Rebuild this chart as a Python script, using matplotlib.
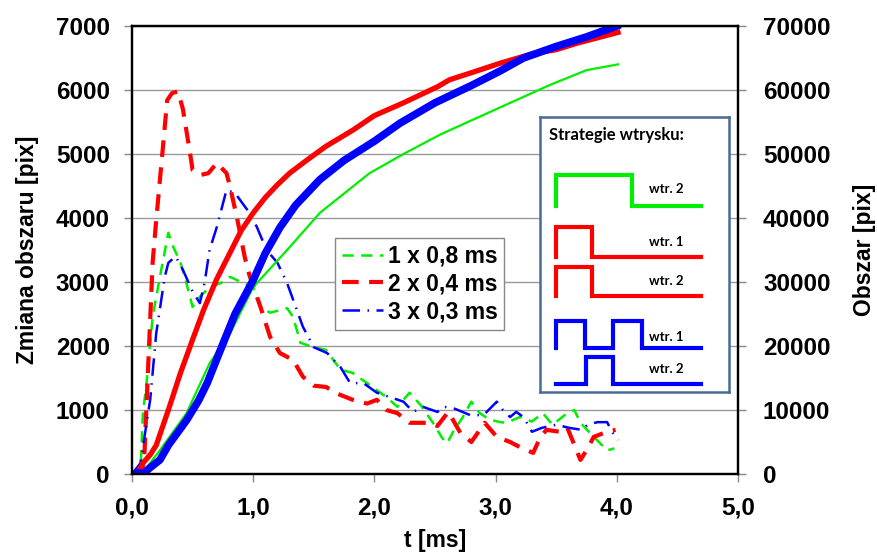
import matplotlib
matplotlib.use("Agg")
import matplotlib.pyplot as plt
from matplotlib.ticker import FixedLocator, FuncFormatter

# ---- data ----
# dashed curves: change of area [pix] (left axis)
t_g_d = [0, 0.07, 0.09, 0.12, 0.17, 0.23, 0.3, 0.34, 0.4, 0.44, 0.5, 0.56, 0.62, 0.68, 0.73, 0.81, 0.92, 1.0,
         1.06, 1.14, 1.28, 1.33, 1.39, 1.5, 1.6, 1.72, 1.82, 1.94, 2.02, 2.1, 2.19, 2.29, 2.38, 2.48, 2.56, 2.6,
         2.65, 2.73, 2.8, 2.87, 2.95, 3.04, 3.09, 3.2, 3.3, 3.39, 3.47, 3.59, 3.65, 3.7, 3.81, 3.92, 3.98]
v_g_d = [0, 50, 950, 1420, 2450, 3080, 3770, 3550, 3300, 3050, 2610, 2770, 2880, 2950, 2980, 3080, 2980, 2920,
         2610, 2520, 2590, 2450, 2050, 1980, 1940, 1630, 1580, 1420, 1310, 1200, 1050, 1270, 1080, 810, 560, 480,
         660, 890, 1130, 950, 850, 810, 800, 890, 820, 950, 770, 950, 1000, 800, 580, 370, 400]

t_r_d = [0, 0.08, 0.1, 0.17, 0.2, 0.25, 0.29, 0.33, 0.38, 0.42, 0.48, 0.5, 0.56, 0.63, 0.7, 0.78, 0.81, 0.87,
         0.93, 0.97, 1.06, 1.14, 1.22, 1.33, 1.41, 1.5, 1.6, 1.7, 1.82, 1.94, 2.02, 2.1, 2.19, 2.29, 2.38, 2.46,
         2.52, 2.61, 2.65, 2.71, 2.8, 2.87, 2.91, 3.01, 3.12, 3.22, 3.31, 3.37, 3.42, 3.53, 3.59, 3.64, 3.7,
         3.75, 3.81, 3.92, 3.99]
v_r_d = [0, 50, 200, 3300, 3970, 5000, 5840, 5950, 5980, 5700, 5000, 4750, 4670, 4700, 4860, 4700, 4480, 3970,
         3390, 3100, 2610, 2140, 1890, 1780, 1520, 1380, 1360, 1250, 1160, 1100, 1160, 1000, 950, 800, 800, 800,
         750, 970, 840, 640, 500, 690, 800, 580, 500, 400, 330, 580, 690, 660, 730, 500, 220,
         370, 580, 660, 690]

t_b_d = [0, 0.07, 0.15, 0.2, 0.27, 0.3, 0.36, 0.42, 0.5, 0.56, 0.6, 0.64, 0.7, 0.78, 0.85, 0.95, 1.03, 1.11,
         1.2, 1.28, 1.33, 1.41, 1.5, 1.61, 1.72, 1.8, 1.91, 2.02, 2.13, 2.24, 2.32, 2.4, 2.52, 2.57, 2.65, 2.79,
         2.9, 3.01, 3.06, 3.12, 3.17, 3.23, 3.3, 3.38, 3.5, 3.61, 3.71, 3.76, 3.84, 3.92, 3.96, 4.01]
v_b_d = [0, 170, 1160, 2200, 3080, 3300, 3400, 3190, 2850, 2670, 3000, 3500, 3860, 4440, 4390, 4130, 3860, 3500,
         3300, 2980, 2720, 2300, 1980, 1890, 1670, 1420, 1420, 1270, 1200, 1130, 970, 1050, 970, 1050, 1030, 920,
         920, 1130, 1000, 890, 970, 890, 660, 720, 770, 720, 690, 770, 810, 810, 660, 530]

# solid curves: area [pix] (right axis)
t_g_s = [0, 0.1, 0.23, 0.45, 0.64, 0.81, 1.0, 1.28, 1.55, 1.96, 2.24, 2.54, 2.62, 3.04, 3.45, 3.75, 4.01]
v_g_s = [0, 500, 3700, 9500, 17300, 22000, 29200, 35000, 40800, 47000, 50000, 53000, 53700, 57300, 60800,
         63100, 64000]

t_r_s = [0, 0.05, 0.09, 0.15, 0.2, 0.3, 0.4, 0.5, 0.59, 0.7, 0.82, 0.9, 1.0, 1.1, 1.2, 1.3, 1.44, 1.6, 1.82,
         2.0, 2.24, 2.52, 2.62, 2.8, 3.04, 3.31, 3.5, 3.67, 3.85, 4.01]
v_r_s = [0, 200, 1700, 3000, 4500, 10000, 15800, 21000, 25600, 30500, 35000, 38000, 40800, 43200, 45200,
         47000, 49000, 51200, 53700, 56000, 58000, 60500, 61600, 62700, 64200, 65700, 66300, 67300, 68200, 69000]

t_b_s = [0, 0.1, 0.15, 0.23, 0.3, 0.45, 0.55, 0.62, 0.73, 0.85, 1.0, 1.1, 1.22, 1.35, 1.55, 1.75, 2.0, 2.21,
         2.5, 2.8, 3.04, 3.23, 3.5, 3.75, 4.0]
v_b_s = [0, 200, 1000, 2200, 4500, 8400, 11500, 14200, 19400, 25000, 30300, 34500, 38500, 42000, 46000,
         49000, 52000, 54800, 58000, 60700, 63000, 65000, 66800, 68300, 70000]

legend_labels = ["1 x 0,8 ms", "2 x 0,4 ms", "3 x 0,3 ms"]

# injection strategies (pulse start/end in ms) for the inset sketch
strat_labels = ["wtr. 2", "wtr. 1", "wtr. 2", "wtr. 1", "wtr. 2"]
strat_pulses = [[(0.0, 0.8)], [(0.0, 0.38)], [(0.0, 0.38)], [(0.0, 0.3), (0.6, 0.9)], [(0.31, 0.6)]]
strat_colors = ["#00ee00", "#ff0000", "#ff0000", "#0000ff", "#0000ff"]
strat_end = 1.52

GREEN, RED, BLUE = "#00ee00", "#ff0000", "#0000ff"

plt.rcParams["font.family"] = ["Liberation Sans", "DejaVu Sans"]
plt.rcParams["font.weight"] = "bold"

fig = plt.figure(figsize=(8.77, 5.55), dpi=100)
ax = fig.add_axes([132 / 877, 1 - 474 / 555, 606 / 877, 448 / 555])
ax2 = ax.twinx()

ax.plot(t_g_d, v_g_d, color=GREEN, lw=1.8, dashes=(4.5, 3), label=legend_labels[0])
ax.plot(t_r_d, v_r_d, color=RED, lw=3, dashes=(4, 2.5), label=legend_labels[1])
ax.plot(t_b_d, v_b_d, color=BLUE, lw=1.8, dashes=(7, 3, 0.6, 3), label=legend_labels[2])

ax2.plot(t_g_s, v_g_s, color=GREEN, lw=1.6)
ax2.plot(t_r_s, v_r_s, color=RED, lw=3.8)
ax2.plot(t_b_s, v_b_s, color=BLUE, lw=5.5)

ax.set_xlim(0, 5)
ax.set_ylim(0, 7000)
ax2.set_ylim(0, 70000)
ax.xaxis.set_major_locator(FixedLocator([0, 1, 2, 3, 4, 5]))
ax.yaxis.set_major_locator(FixedLocator(range(0, 7001, 1000)))
ax2.yaxis.set_major_locator(FixedLocator(range(0, 70001, 10000)))
ax.xaxis.set_major_formatter(FuncFormatter(lambda v, p: f"{v:.1f}".replace(".", ",")))

ax.grid(axis="y", color="#999999", lw=1)
ax.set_axisbelow(True)
for a in (ax, ax2):
    for s in a.spines.values():
        s.set_linewidth(1.6)
        s.set_color("black")
    a.tick_params(labelsize=17.5, length=6, width=1, color="#888888", direction="out")
ax.tick_params(axis="x", pad=10)
ax.tick_params(axis="y", pad=10)
ax2.tick_params(axis="y", pad=12)

ax.set_xlabel("t [ms]", fontsize=16.5, fontweight="bold", labelpad=7)
ax.set_ylabel("Zmiana obszaru [pix]", fontsize=16.5, fontweight="bold", labelpad=12)
ax2.set_ylabel("Obszar [pix]", fontsize=16.5, fontweight="bold", labelpad=16)

leg = ax.legend(loc="upper left", bbox_to_anchor=(335 / 877, 1 - 238 / 555), bbox_transform=fig.transFigure,
                borderaxespad=0, fontsize=16.5, handlelength=1.8, handletextpad=0.2, borderpad=0.3,
                labelspacing=0.2, fancybox=False, frameon=True, edgecolor="#888888", framealpha=1)
leg.get_frame().set_linewidth(1)
leg.set_zorder(20)

# inset: injection strategies
ins = fig.add_axes([540 / 877, 1 - 392 / 555, 189 / 877, 275 / 555])
ins.set_zorder(30)
ins.set_xlim(-0.17, 1.82)
ins.set_ylim(275, 0)
ins.set_xticks([])
ins.set_yticks([])
for s in ins.spines.values():
    s.set_color("#4a6a96")
    s.set_linewidth(1.8)
ins.text(-0.07, 18, "Strategie wtrysku:", family=["Lato", "DejaVu Sans"], fontweight="bold", fontsize=12,
         va="center", ha="left")
rows = [(89, 58), (140, 110), (179, 150), (231, 204), (267, 240)]
label_y = [72, 125, 164, 220, 252]
for i, pulses in enumerate(strat_pulses):
    low, high = rows[i]
    xs, ys = [0.0], [low]
    for a0, a1 in pulses:
        xs += [a0, a0, a1, a1]
        ys += [low, high, high, low]
    xs.append(strat_end)
    ys.append(low)
    ins.plot(xs, ys, color=strat_colors[i], lw=3, solid_joinstyle="miter")
    ins.text(0.98, label_y[i], strat_labels[i], family=["Lato", "DejaVu Sans"], fontweight="bold",
             fontsize=9.5, va="center", ha="left")

fig.savefig("out.png", dpi=100)
